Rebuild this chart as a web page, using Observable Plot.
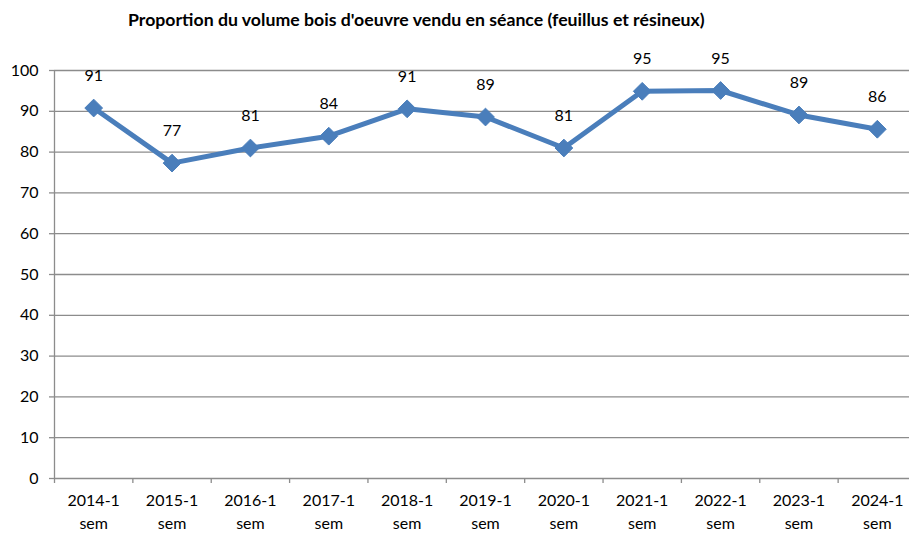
<!DOCTYPE html>
<html><head><meta charset="utf-8">
<script src="https://cdn.jsdelivr.net/npm/d3@7"></script>
<script src="https://cdn.jsdelivr.net/npm/@observablehq/plot@0.6"></script>
<style>
body{margin:0;background:#fff;width:909px;height:533px;overflow:hidden;}
#title{height:40px;line-height:40px;font-family:Lato,"Open Sans",sans-serif;font-weight:bold;font-size:17.7px;color:#000;text-align:left;text-indent:128px;white-space:nowrap;}
svg{display:block;}
</style></head>
<body>
<div id="title">Proportion du volume bois d'oeuvre vendu en séance (feuillus et résineux)</div>
<div id="chart"></div>
<script>
const categories = ["2014-1 sem","2015-1 sem","2016-1 sem","2017-1 sem","2018-1 sem","2019-1 sem","2020-1 sem","2021-1 sem","2022-1 sem","2023-1 sem","2024-1 sem"];
const values = [90.8, 77.3, 81.0, 83.9, 90.6, 88.6, 81.0, 94.9, 95.1, 89.1, 85.6];
const yTicks = [0,10,20,30,40,50,60,70,80,90,100];

const data = categories.map((c,i)=>({i, c, v: values[i]}));
const idx = categories.map((c,i)=>i);
const bounds = categories.map((c,i)=>i-0.5).concat([categories.length-0.5]);
const grid = "#8c8c8c";
const blue = "#4a7ebb";

const chart = Plot.plot({
  width: 909,
  height: 493,
  marginTop: 30,
  marginBottom: 55,
  marginLeft: 54,
  marginRight: 0,
  style: {fontFamily: "Lato, 'Open Sans', sans-serif", fontSize: "16px", color: "#000", background: "#fff", overflow: "visible"},
  x: {type: "linear", domain: [-0.5, categories.length - 0.5], range: [54, 916]},
  y: {domain: [0, 100]},
  marks: [
    Plot.ruleY(yTicks.filter(t=>t>0), {stroke: grid, strokeWidth: 1.3}),
    Plot.ruleX([-0.5], {y1: 0, y2: 100, stroke: grid, strokeWidth: 1.3}),
    Plot.ruleY([0], {stroke: grid, strokeWidth: 1.3}),
    Plot.axisY({ticks: yTicks, tickSize: 5, tickPadding: 11, stroke: grid, strokeWidth: 1.3, label: null, fontSize: 16}),
    Plot.axisX({ticks: bounds, tickSize: 5, tickFormat: () => "", stroke: grid, strokeWidth: 1.3, label: null}),
    Plot.axisX({ticks: idx, tickSize: 0, tickPadding: 12, tickFormat: i => categories[i].replace(" ", "\n"), lineHeight: 1.4, label: null, fontSize: 16}),
    Plot.line(data, {x: "i", y: "v", stroke: blue, strokeWidth: 5, strokeLinejoin: "round"}),
    Plot.dot(data, {x: "i", y: "v", symbol: "diamond2", r: 8, fill: blue, stroke: blue, strokeWidth: 1}),
    Plot.text(data, {x: "i", y: "v", text: d => String(Math.round(d.v)), dy: -32, fontSize: 16, fill: "#000"})
  ]
});
document.getElementById("chart").appendChild(chart);
</script>
</body></html>
